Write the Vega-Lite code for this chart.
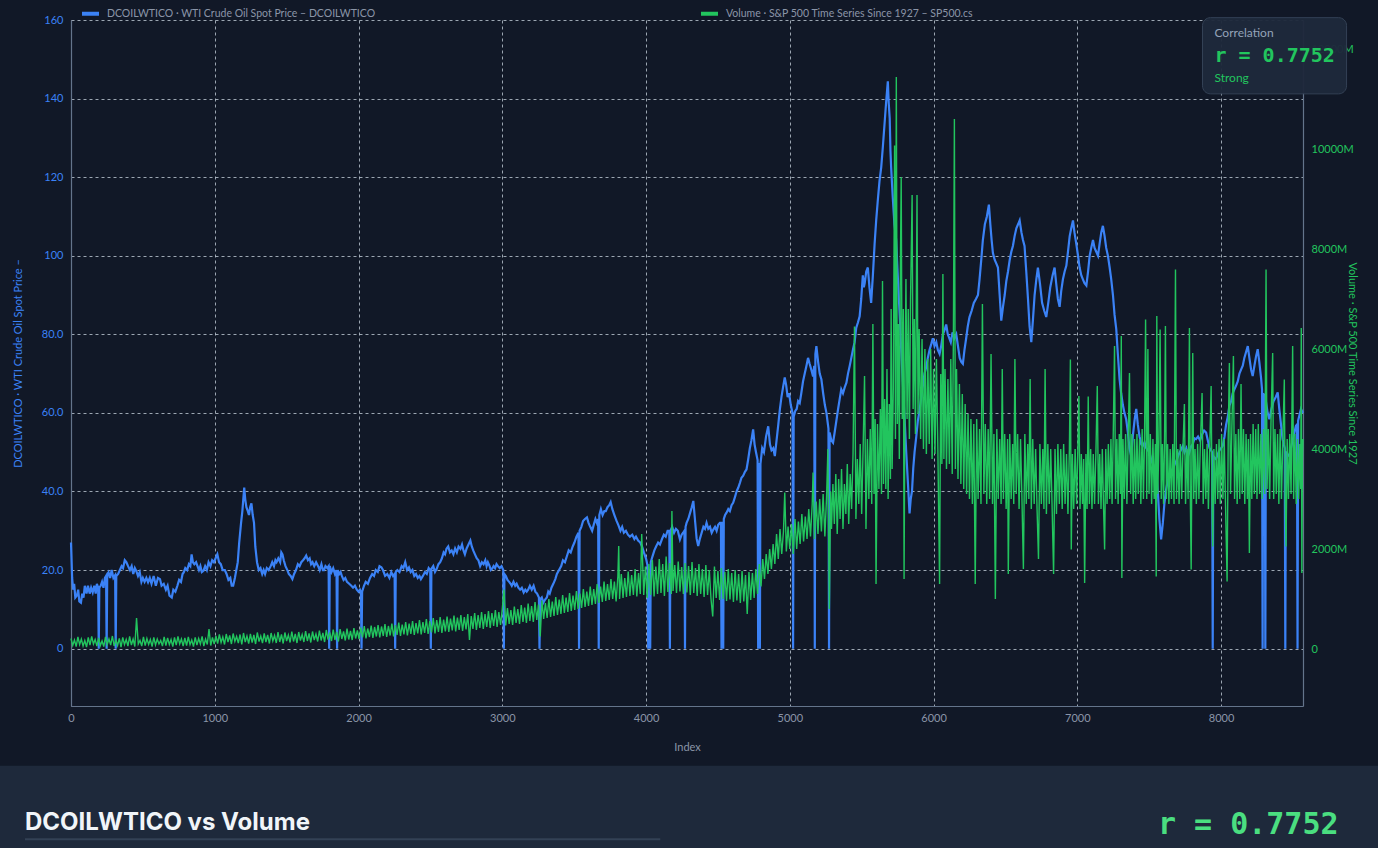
{
"$schema": "https://vega.github.io/schema/vega-lite/v6.json",
"width": 1232,
"height": 686,
"autosize": {"type": "none"},
"padding": {"left": 71, "top": 20, "right": 75, "bottom": 142},
"background": "#111827",
"config": {
  "view": {"stroke": null},
  "font": "Lato",
  "axis": {"labelFont": "Lato", "titleFont": "Lato", "ticks": false, "domainColor": "#64748b", "domainWidth": 1.2, "gridColor": "#cbd5e1", "gridOpacity": 0.75, "gridDash": [3, 3], "gridWidth": 1, "labelFontSize": 11, "titleFontSize": 11, "titleFontWeight": "normal"},
  "legend": {"orient": "none", "legendX": 9, "legendY": -17, "direction": "horizontal", "symbolType": "stroke", "symbolStrokeWidth": 4, "symbolSize": 289, "labelColor": "#8b95a7", "labelFont": "Lato", "labelFontSize": 10.5, "labelLimit": 0, "labelOffset": 6, "columnPadding": 317, "title": null}
},
"datasets": {
"oil": [{"index":0,"oil":27},{"index":8,"oil":18},{"index":15,"oil":15},{"index":22,"oil":16.5},{"index":30,"oil":13},{"index":41,"oil":13.5},{"index":50,"oil":15},{"index":58,"oil":12},{"index":69,"oil":11.7},{"index":78,"oil":14},{"index":87,"oil":13},{"index":96,"oil":16},{"index":108,"oil":14},{"index":118,"oil":16},{"index":130,"oil":14},{"index":140,"oil":15.5},{"index":151,"oil":14.3},{"index":162,"oil":16},{"index":172,"oil":14},{"index":180,"oil":16.5},{"index":189,"oil":15.5},{"index":193,"oil":0},{"index":197,"oil":15.5},{"index":206,"oil":16},{"index":216,"oil":17},{"index":226,"oil":15.5},{"index":236,"oil":18},{"index":244,"oil":18.5},{"index":248,"oil":0},{"index":252,"oil":18.8},{"index":261,"oil":19.4},{"index":272,"oil":18},{"index":283,"oil":20},{"index":295,"oil":18},{"index":307,"oil":18.7},{"index":311,"oil":0},{"index":315,"oil":18.5},{"index":328,"oil":19},{"index":340,"oil":20},{"index":352,"oil":21},{"index":362,"oil":20.5},{"index":374,"oil":22.5},{"index":385,"oil":22},{"index":397,"oil":21},{"index":410,"oil":20},{"index":422,"oil":21},{"index":433,"oil":19},{"index":444,"oil":20.5},{"index":454,"oil":19.8},{"index":466,"oil":18.5},{"index":478,"oil":19.5},{"index":490,"oil":17},{"index":500,"oil":18},{"index":512,"oil":17},{"index":524,"oil":18},{"index":536,"oil":16.9},{"index":548,"oil":18},{"index":560,"oil":16.5},{"index":575,"oil":18.5},{"index":590,"oil":16},{"index":605,"oil":18},{"index":619,"oil":17.7},{"index":630,"oil":16},{"index":645,"oil":16.5},{"index":660,"oil":15},{"index":672,"oil":16},{"index":685,"oil":13.5},{"index":701,"oil":13},{"index":712,"oil":15},{"index":726,"oil":14.5},{"index":740,"oil":16},{"index":752,"oil":17.5},{"index":765,"oil":17},{"index":776,"oil":19},{"index":784,"oil":19.4},{"index":795,"oil":20.5},{"index":808,"oil":20},{"index":820,"oil":21.5},{"index":830,"oil":21},{"index":839,"oil":24},{"index":848,"oil":22},{"index":858,"oil":21.5},{"index":870,"oil":22},{"index":880,"oil":21},{"index":890,"oil":20},{"index":900,"oil":21},{"index":910,"oil":19.5},{"index":921,"oil":19.8},{"index":933,"oil":21},{"index":945,"oil":20},{"index":957,"oil":22},{"index":970,"oil":21},{"index":982,"oil":22.5},{"index":994,"oil":22},{"index":1006,"oil":23},{"index":1018,"oil":24},{"index":1030,"oil":22},{"index":1042,"oil":21.5},{"index":1055,"oil":20},{"index":1070,"oil":20},{"index":1082,"oil":19},{"index":1095,"oil":17.5},{"index":1108,"oil":18},{"index":1118,"oil":16},{"index":1128,"oil":16},{"index":1140,"oil":18},{"index":1150,"oil":20},{"index":1160,"oil":22},{"index":1170,"oil":27},{"index":1183,"oil":32},{"index":1192,"oil":35},{"index":1205,"oil":41},{"index":1212,"oil":38},{"index":1220,"oil":36},{"index":1230,"oil":35},{"index":1238,"oil":34},{"index":1246,"oil":36},{"index":1255,"oil":37},{"index":1264,"oil":34},{"index":1273,"oil":32},{"index":1282,"oil":26},{"index":1294,"oil":22},{"index":1306,"oil":20},{"index":1318,"oil":20.5},{"index":1330,"oil":19},{"index":1340,"oil":20},{"index":1350,"oil":19},{"index":1362,"oil":20.5},{"index":1375,"oil":20},{"index":1389,"oil":21},{"index":1400,"oil":22},{"index":1412,"oil":21},{"index":1422,"oil":22.5},{"index":1430,"oil":22},{"index":1442,"oil":23},{"index":1455,"oil":22},{"index":1463,"oil":24.5},{"index":1471,"oil":24},{"index":1480,"oil":22.5},{"index":1492,"oil":21},{"index":1505,"oil":20},{"index":1515,"oil":19},{"index":1528,"oil":18.5},{"index":1540,"oil":17.7},{"index":1552,"oil":19},{"index":1565,"oil":20},{"index":1578,"oil":21.5},{"index":1590,"oil":21},{"index":1602,"oil":22},{"index":1614,"oil":22.5},{"index":1625,"oil":23},{"index":1636,"oil":23.7},{"index":1648,"oil":22.5},{"index":1660,"oil":23},{"index":1670,"oil":21.5},{"index":1680,"oil":22},{"index":1692,"oil":21},{"index":1705,"oil":22},{"index":1719,"oil":21},{"index":1730,"oil":20},{"index":1742,"oil":21.5},{"index":1752,"oil":20},{"index":1760,"oil":20},{"index":1770,"oil":21},{"index":1782,"oil":20.5},{"index":1792,"oil":21},{"index":1796,"oil":0},{"index":1800,"oil":21},{"index":1812,"oil":19.5},{"index":1824,"oil":20.5},{"index":1836,"oil":19},{"index":1847,"oil":20},{"index":1851,"oil":0},{"index":1855,"oil":20},{"index":1866,"oil":19},{"index":1875,"oil":19.5},{"index":1884,"oil":18.5},{"index":1896,"oil":17.5},{"index":1908,"oil":18},{"index":1920,"oil":17},{"index":1935,"oil":16.5},{"index":1950,"oil":16},{"index":1962,"oil":15.5},{"index":1975,"oil":16},{"index":1988,"oil":15},{"index":2000,"oil":14.5},{"index":2010,"oil":15},{"index":2017,"oil":14.3},{"index":2021,"oil":0},{"index":2025,"oil":14.5},{"index":2038,"oil":16},{"index":2050,"oil":17},{"index":2065,"oil":16.5},{"index":2080,"oil":18},{"index":2095,"oil":19},{"index":2108,"oil":18.5},{"index":2120,"oil":20},{"index":2134,"oil":19.5},{"index":2146,"oil":21},{"index":2159,"oil":20.7},{"index":2170,"oil":20},{"index":2185,"oil":18.5},{"index":2200,"oil":19},{"index":2215,"oil":18},{"index":2228,"oil":19.5},{"index":2240,"oil":18.5},{"index":2251,"oil":19},{"index":2255,"oil":0},{"index":2259,"oil":19.5},{"index":2270,"oil":20},{"index":2285,"oil":19.5},{"index":2300,"oil":21},{"index":2312,"oil":20.5},{"index":2325,"oil":22},{"index":2338,"oil":20},{"index":2351,"oil":20.7},{"index":2363,"oil":19.5},{"index":2375,"oil":20},{"index":2388,"oil":18.5},{"index":2400,"oil":19},{"index":2412,"oil":18},{"index":2424,"oil":18.5},{"index":2434,"oil":17.7},{"index":2448,"oil":18.5},{"index":2462,"oil":19.5},{"index":2475,"oil":19},{"index":2488,"oil":20.5},{"index":2499,"oil":20},{"index":2503,"oil":0},{"index":2507,"oil":20.3},{"index":2520,"oil":21},{"index":2532,"oil":19.5},{"index":2544,"oil":20.3},{"index":2556,"oil":21.5},{"index":2568,"oil":22},{"index":2580,"oil":23},{"index":2592,"oil":24.5},{"index":2602,"oil":24},{"index":2612,"oil":25.4},{"index":2624,"oil":26},{"index":2636,"oil":24.5},{"index":2648,"oil":25},{"index":2660,"oil":24},{"index":2672,"oil":25.5},{"index":2684,"oil":24.5},{"index":2696,"oil":26},{"index":2709,"oil":25.4},{"index":2720,"oil":26.5},{"index":2730,"oil":25},{"index":2740,"oil":24},{"index":2752,"oil":25.5},{"index":2765,"oil":26.5},{"index":2778,"oil":27.5},{"index":2788,"oil":26},{"index":2798,"oil":25},{"index":2810,"oil":24},{"index":2822,"oil":23},{"index":2834,"oil":22.5},{"index":2846,"oil":21},{"index":2858,"oil":22},{"index":2870,"oil":21.5},{"index":2882,"oil":22.5},{"index":2891,"oil":21},{"index":2900,"oil":22},{"index":2912,"oil":21},{"index":2920,"oil":20},{"index":2929,"oil":20.3},{"index":2940,"oil":21},{"index":2950,"oil":20.5},{"index":2960,"oil":21.5},{"index":2970,"oil":21},{"index":2982,"oil":20.5},{"index":2995,"oil":21},{"index":3007,"oil":20},{"index":3011,"oil":0},{"index":3015,"oil":19},{"index":3025,"oil":18.5},{"index":3036,"oil":17.5},{"index":3048,"oil":17},{"index":3058,"oil":16.5},{"index":3066,"oil":16},{"index":3078,"oil":17},{"index":3090,"oil":16},{"index":3100,"oil":16.5},{"index":3112,"oil":15.5},{"index":3124,"oil":15},{"index":3136,"oil":15.5},{"index":3149,"oil":14.3},{"index":3160,"oil":15},{"index":3170,"oil":14.5},{"index":3180,"oil":15},{"index":3192,"oil":16},{"index":3205,"oil":15},{"index":3218,"oil":16},{"index":3230,"oil":14.5},{"index":3242,"oil":14},{"index":3255,"oil":13},{"index":3259,"oil":0},{"index":3263,"oil":12.5},{"index":3275,"oil":13},{"index":3286,"oil":11.7},{"index":3298,"oil":12.5},{"index":3310,"oil":13},{"index":3320,"oil":14.5},{"index":3330,"oil":14},{"index":3342,"oil":15.5},{"index":3355,"oil":16.5},{"index":3369,"oil":17.7},{"index":3380,"oil":19},{"index":3395,"oil":20},{"index":3410,"oil":21},{"index":3422,"oil":22.5},{"index":3436,"oil":22},{"index":3451,"oil":23.7},{"index":3462,"oil":25},{"index":3476,"oil":24.5},{"index":3490,"oil":26},{"index":3502,"oil":27},{"index":3516,"oil":28.5},{"index":3530,"oil":29.5},{"index":3534,"oil":0},{"index":3538,"oil":30},{"index":3550,"oil":31},{"index":3562,"oil":32.5},{"index":3575,"oil":33},{"index":3589,"oil":33.4},{"index":3600,"oil":32},{"index":3612,"oil":31},{"index":3625,"oil":30},{"index":3636,"oil":31.5},{"index":3648,"oil":33},{"index":3658,"oil":32},{"index":3667,"oil":33},{"index":3671,"oil":0},{"index":3675,"oil":34},{"index":3686,"oil":35.5},{"index":3698,"oil":34},{"index":3710,"oil":35},{"index":3720,"oil":35},{"index":3732,"oil":36},{"index":3744,"oil":36.5},{"index":3754,"oil":37.3},{"index":3766,"oil":35.5},{"index":3780,"oil":34},{"index":3795,"oil":32.5},{"index":3809,"oil":31.3},{"index":3822,"oil":30},{"index":3834,"oil":31},{"index":3846,"oil":29.5},{"index":3860,"oil":30},{"index":3874,"oil":29},{"index":3888,"oil":28.5},{"index":3904,"oil":29},{"index":3919,"oil":27.9},{"index":3930,"oil":28.5},{"index":3945,"oil":27.5},{"index":3960,"oil":27},{"index":3972,"oil":26},{"index":3985,"oil":24.5},{"index":4001,"oil":22.8},{"index":4011,"oil":21},{"index":4015,"oil":0},{"index":4019,"oil":20},{"index":4025,"oil":20},{"index":4029,"oil":0},{"index":4033,"oil":22},{"index":4045,"oil":23.5},{"index":4058,"oil":25},{"index":4070,"oil":26},{"index":4084,"oil":27},{"index":4097,"oil":26.5},{"index":4111,"oil":27.9},{"index":4124,"oil":29},{"index":4137,"oil":28.5},{"index":4150,"oil":30},{"index":4162,"oil":30},{"index":4166,"oil":0},{"index":4170,"oil":30},{"index":4182,"oil":31},{"index":4195,"oil":29.5},{"index":4208,"oil":30.5},{"index":4221,"oil":30},{"index":4236,"oil":27.8},{"index":4248,"oil":29},{"index":4258,"oil":29.5},{"index":4267,"oil":30},{"index":4271,"oil":0},{"index":4275,"oil":31},{"index":4282,"oil":32},{"index":4294,"oil":33},{"index":4306,"oil":34.5},{"index":4318,"oil":36},{"index":4329,"oil":37.6},{"index":4340,"oil":33},{"index":4352,"oil":28},{"index":4363,"oil":26.1},{"index":4375,"oil":28},{"index":4387,"oil":29.5},{"index":4399,"oil":31},{"index":4410,"oil":30.5},{"index":4421,"oil":32},{"index":4433,"oil":30.5},{"index":4445,"oil":31},{"index":4457,"oil":29.5},{"index":4468,"oil":30.3},{"index":4480,"oil":31},{"index":4491,"oil":30},{"index":4502,"oil":31.5},{"index":4514,"oil":32},{"index":4521,"oil":32},{"index":4525,"oil":0},{"index":4529,"oil":32},{"index":4533,"oil":32},{"index":4537,"oil":0},{"index":4541,"oil":33},{"index":4550,"oil":34},{"index":4560,"oil":34.6},{"index":4572,"oil":35.5},{"index":4583,"oil":35},{"index":4595,"oil":36.5},{"index":4606,"oil":37.1},{"index":4618,"oil":38.5},{"index":4630,"oil":40},{"index":4642,"oil":41},{"index":4653,"oil":42.2},{"index":4664,"oil":43.5},{"index":4676,"oil":44},{"index":4688,"oil":45},{"index":4699,"oil":45.6},{"index":4710,"oil":48},{"index":4722,"oil":51},{"index":4733,"oil":53},{"index":4745,"oil":55.8},{"index":4755,"oil":52},{"index":4765,"oil":50},{"index":4776,"oil":48},{"index":4780,"oil":0},{"index":4784,"oil":47},{"index":4788,"oil":47},{"index":4792,"oil":0},{"index":4796,"oil":47},{"index":4808,"oil":51},{"index":4820,"oil":50},{"index":4835,"oil":54},{"index":4850,"oil":56.6},{"index":4862,"oil":52},{"index":4873,"oil":50.5},{"index":4885,"oil":51},{"index":4896,"oil":49},{"index":4908,"oil":53},{"index":4920,"oil":57},{"index":4931,"oil":60.9},{"index":4942,"oil":64},{"index":4953,"oil":66.5},{"index":4965,"oil":69},{"index":4975,"oil":67},{"index":4985,"oil":64},{"index":4995,"oil":65},{"index":5007,"oil":62},{"index":5019,"oil":60},{"index":5023,"oil":0},{"index":5027,"oil":59},{"index":5038,"oil":60.5},{"index":5048,"oil":61},{"index":5058,"oil":63},{"index":5069,"oil":62.5},{"index":5080,"oil":65},{"index":5092,"oil":68},{"index":5104,"oil":70},{"index":5116,"oil":72},{"index":5127,"oil":74},{"index":5138,"oil":72.5},{"index":5150,"oil":71},{"index":5162,"oil":69.3},{"index":5170,"oil":72},{"index":5174,"oil":0},{"index":5178,"oil":75},{"index":5185,"oil":77},{"index":5197,"oil":73},{"index":5208,"oil":70},{"index":5220,"oil":68.5},{"index":5232,"oil":65},{"index":5244,"oil":62},{"index":5255,"oil":60},{"index":5269,"oil":56},{"index":5273,"oil":0},{"index":5277,"oil":55},{"index":5289,"oil":53},{"index":5301,"oil":52.4},{"index":5312,"oil":55},{"index":5324,"oil":58},{"index":5336,"oil":61},{"index":5347,"oil":63.5},{"index":5358,"oil":66},{"index":5370,"oil":65},{"index":5382,"oil":66.5},{"index":5394,"oil":67.7},{"index":5405,"oil":70},{"index":5417,"oil":72},{"index":5428,"oil":74},{"index":5440,"oil":76.2},{"index":5451,"oil":78},{"index":5462,"oil":81.6},{"index":5474,"oil":83},{"index":5486,"oil":84.6},{"index":5497,"oil":89},{"index":5508,"oil":95},{"index":5515,"oil":92},{"index":5521,"oil":93},{"index":5532,"oil":96},{"index":5543,"oil":97},{"index":5554,"oil":92},{"index":5566,"oil":88},{"index":5578,"oil":95},{"index":5590,"oil":103},{"index":5601,"oil":109},{"index":5612,"oil":114},{"index":5624,"oil":119},{"index":5636,"oil":122.5},{"index":5648,"oil":128},{"index":5659,"oil":133.5},{"index":5670,"oil":139},{"index":5682,"oil":144.4},{"index":5688,"oil":139},{"index":5695,"oil":135},{"index":5700,"oil":127},{"index":5705,"oil":122.5},{"index":5716,"oil":115},{"index":5728,"oil":108},{"index":5740,"oil":104},{"index":5751,"oil":95},{"index":5763,"oil":86},{"index":5774,"oil":77},{"index":5786,"oil":68},{"index":5798,"oil":59},{"index":5810,"oil":50},{"index":5822,"oil":42},{"index":5833,"oil":34.4},{"index":5841,"oil":38},{"index":5850,"oil":40},{"index":5859,"oil":46},{"index":5868,"oil":50},{"index":5880,"oil":54},{"index":5891,"oil":58},{"index":5903,"oil":60.7},{"index":5914,"oil":64},{"index":5926,"oil":67},{"index":5937,"oil":70},{"index":5949,"oil":71.6},{"index":5960,"oil":74},{"index":5972,"oil":76},{"index":5984,"oil":77.5},{"index":5995,"oil":79},{"index":6007,"oil":77},{"index":6019,"oil":78},{"index":6030,"oil":76},{"index":6042,"oil":75},{"index":6053,"oil":77},{"index":6065,"oil":80},{"index":6076,"oil":81},{"index":6088,"oil":82.5},{"index":6099,"oil":80},{"index":6110,"oil":79},{"index":6120,"oil":78},{"index":6132,"oil":80.5},{"index":6145,"oil":79},{"index":6158,"oil":80},{"index":6170,"oil":77},{"index":6182,"oil":74},{"index":6193,"oil":73},{"index":6204,"oil":72.5},{"index":6215,"oil":76},{"index":6227,"oil":79},{"index":6238,"oil":82},{"index":6250,"oil":84.4},{"index":6265,"oil":86},{"index":6280,"oil":88},{"index":6295,"oil":89},{"index":6309,"oil":90},{"index":6320,"oil":94},{"index":6332,"oil":99},{"index":6343,"oil":104},{"index":6357,"oil":108},{"index":6371,"oil":110},{"index":6385,"oil":113},{"index":6395,"oil":108},{"index":6404,"oil":104},{"index":6413,"oil":100.7},{"index":6425,"oil":99},{"index":6437,"oil":98},{"index":6448,"oil":97},{"index":6460,"oil":90},{"index":6471,"oil":83.5},{"index":6483,"oil":87},{"index":6495,"oil":90},{"index":6506,"oil":93.5},{"index":6518,"oil":96},{"index":6530,"oil":99},{"index":6541,"oil":101},{"index":6552,"oil":102.5},{"index":6564,"oil":105},{"index":6576,"oil":107},{"index":6588,"oil":108},{"index":6599,"oil":109},{"index":6611,"oil":106},{"index":6622,"oil":104},{"index":6633,"oil":102.5},{"index":6645,"oil":96},{"index":6657,"oil":89},{"index":6668,"oil":82},{"index":6680,"oil":78},{"index":6692,"oil":84},{"index":6703,"oil":90},{"index":6715,"oil":94},{"index":6726,"oil":97},{"index":6740,"oil":93},{"index":6755,"oil":88},{"index":6770,"oil":86},{"index":6784,"oil":84.4},{"index":6798,"oil":88},{"index":6812,"oil":92},{"index":6828,"oil":95},{"index":6842,"oil":97},{"index":6853,"oil":93},{"index":6865,"oil":89},{"index":6877,"oil":87},{"index":6888,"oil":91},{"index":6900,"oil":94},{"index":6912,"oil":96},{"index":6924,"oil":97.5},{"index":6935,"oil":101},{"index":6947,"oil":105},{"index":6958,"oil":107},{"index":6970,"oil":109},{"index":6980,"oil":106},{"index":6993,"oil":103},{"index":7005,"oil":100},{"index":7016,"oil":97},{"index":7028,"oil":95},{"index":7039,"oil":94},{"index":7050,"oil":93},{"index":7063,"oil":92.4},{"index":7075,"oil":96},{"index":7086,"oil":100},{"index":7097,"oil":102},{"index":7109,"oil":104},{"index":7120,"oil":102},{"index":7132,"oil":101},{"index":7144,"oil":100},{"index":7155,"oil":103},{"index":7167,"oil":106},{"index":7178,"oil":107.6},{"index":7190,"oil":105},{"index":7201,"oil":102},{"index":7213,"oil":100},{"index":7225,"oil":97},{"index":7236,"oil":94},{"index":7248,"oil":90},{"index":7259,"oil":85},{"index":7271,"oil":81.3},{"index":7282,"oil":75},{"index":7294,"oil":68.6},{"index":7305,"oil":65},{"index":7317,"oil":62},{"index":7328,"oil":60},{"index":7340,"oil":58.4},{"index":7352,"oil":55},{"index":7363,"oil":51},{"index":7375,"oil":49},{"index":7386,"oil":54},{"index":7398,"oil":58},{"index":7410,"oil":61},{"index":7421,"oil":57},{"index":7433,"oil":54},{"index":7445,"oil":52},{"index":7456,"oil":51.6},{"index":7468,"oil":52.5},{"index":7480,"oil":51},{"index":7491,"oil":50.5},{"index":7502,"oil":50},{"index":7514,"oil":48},{"index":7526,"oil":47},{"index":7537,"oil":46},{"index":7549,"oil":45.7},{"index":7560,"oil":40},{"index":7571,"oil":33},{"index":7583,"oil":27.8},{"index":7595,"oil":32},{"index":7606,"oil":37},{"index":7618,"oil":40.6},{"index":7630,"oil":43},{"index":7641,"oil":44},{"index":7653,"oil":45},{"index":7664,"oil":45.7},{"index":7678,"oil":47},{"index":7692,"oil":48},{"index":7706,"oil":49.5},{"index":7720,"oil":50.5},{"index":7734,"oil":51.6},{"index":7746,"oil":50},{"index":7758,"oil":51},{"index":7770,"oil":49},{"index":7780,"oil":50},{"index":7792,"oil":51.5},{"index":7803,"oil":52},{"index":7815,"oil":53.5},{"index":7826,"oil":53.3},{"index":7840,"oil":54},{"index":7854,"oil":53},{"index":7868,"oil":54.5},{"index":7882,"oil":55.5},{"index":7896,"oil":55},{"index":7908,"oil":53},{"index":7920,"oil":51},{"index":7930,"oil":50.5},{"index":7938,"oil":50},{"index":7942,"oil":0},{"index":7946,"oil":49},{"index":7955,"oil":48.5},{"index":7965,"oil":48.2},{"index":7977,"oil":49.5},{"index":7989,"oil":50.5},{"index":8000,"oil":51},{"index":8012,"oil":51.6},{"index":8024,"oil":54},{"index":8035,"oil":57},{"index":8047,"oil":59},{"index":8058,"oil":61.8},{"index":8070,"oil":63},{"index":8081,"oil":65},{"index":8093,"oil":66},{"index":8104,"oil":66.9},{"index":8116,"oil":68},{"index":8128,"oil":70},{"index":8139,"oil":71},{"index":8151,"oil":72},{"index":8162,"oil":74},{"index":8174,"oil":75.5},{"index":8186,"oil":77},{"index":8197,"oil":74},{"index":8209,"oil":71},{"index":8220,"oil":69.4},{"index":8232,"oil":72},{"index":8244,"oil":74.5},{"index":8255,"oil":76.2},{"index":8266,"oil":73},{"index":8278,"oil":69},{"index":8285,"oil":66},{"index":8289,"oil":0},{"index":8293,"oil":65},{"index":8300,"oil":64.5},{"index":8304,"oil":64},{"index":8308,"oil":0},{"index":8312,"oil":63},{"index":8324,"oil":60},{"index":8336,"oil":58.4},{"index":8350,"oil":61},{"index":8365,"oil":63},{"index":8380,"oil":64},{"index":8394,"oil":65.2},{"index":8405,"oil":61},{"index":8417,"oil":57},{"index":8428,"oil":53.3},{"index":8436,"oil":52},{"index":8443,"oil":51},{"index":8447,"oil":0},{"index":8451,"oil":50},{"index":8462,"oil":49.5},{"index":8474,"oil":49},{"index":8486,"oil":51},{"index":8498,"oil":53},{"index":8510,"oil":55},{"index":8521,"oil":56.7},{"index":8528,"oil":57},{"index":8532,"oil":0},{"index":8536,"oil":58},{"index":8546,"oil":59.5},{"index":8556,"oil":61},{"index":8570,"oil":60}],
"volume": [{"index":0,"volume":210},{"index":12,"volume":70},{"index":24,"volume":180},{"index":36,"volume":50},{"index":48,"volume":240},{"index":60,"volume":90},{"index":72,"volume":200},{"index":84,"volume":60},{"index":96,"volume":170},{"index":108,"volume":40},{"index":120,"volume":230},{"index":132,"volume":80},{"index":144,"volume":250},{"index":156,"volume":100},{"index":168,"volume":190},{"index":180,"volume":60},{"index":192,"volume":220},{"index":204,"volume":70},{"index":216,"volume":160},{"index":228,"volume":50},{"index":240,"volume":240},{"index":252,"volume":90},{"index":264,"volume":200},{"index":276,"volume":80},{"index":288,"volume":260},{"index":300,"volume":60},{"index":312,"volume":180},{"index":324,"volume":70},{"index":336,"volume":210},{"index":348,"volume":40},{"index":360,"volume":230},{"index":372,"volume":90},{"index":384,"volume":190},{"index":396,"volume":60},{"index":408,"volume":250},{"index":420,"volume":80},{"index":432,"volume":200},{"index":444,"volume":50},{"index":456,"volume":620},{"index":468,"volume":100},{"index":480,"volume":170},{"index":492,"volume":60},{"index":504,"volume":240},{"index":516,"volume":70},{"index":528,"volume":210},{"index":540,"volume":90},{"index":552,"volume":190},{"index":564,"volume":50},{"index":576,"volume":230},{"index":588,"volume":80},{"index":600,"volume":200},{"index":612,"volume":100},{"index":624,"volume":170},{"index":636,"volume":60},{"index":648,"volume":240},{"index":660,"volume":70},{"index":672,"volume":220},{"index":684,"volume":90},{"index":696,"volume":190},{"index":708,"volume":50},{"index":720,"volume":230},{"index":732,"volume":80},{"index":744,"volume":250},{"index":756,"volume":100},{"index":768,"volume":200},{"index":780,"volume":60},{"index":792,"volume":220},{"index":804,"volume":70},{"index":816,"volume":240},{"index":828,"volume":90},{"index":840,"volume":180},{"index":852,"volume":50},{"index":864,"volume":230},{"index":876,"volume":80},{"index":888,"volume":210},{"index":900,"volume":100},{"index":912,"volume":250},{"index":924,"volume":60},{"index":936,"volume":200},{"index":948,"volume":90},{"index":960,"volume":400},{"index":972,"volume":70},{"index":984,"volume":230},{"index":996,"volume":100},{"index":1008,"volume":260},{"index":1020,"volume":110},{"index":1032,"volume":290},{"index":1044,"volume":130},{"index":1056,"volume":240},{"index":1068,"volume":90},{"index":1080,"volume":300},{"index":1092,"volume":140},{"index":1104,"volume":270},{"index":1116,"volume":100},{"index":1128,"volume":310},{"index":1140,"volume":150},{"index":1152,"volume":250},{"index":1164,"volume":120},{"index":1176,"volume":290},{"index":1188,"volume":90},{"index":1200,"volume":320},{"index":1212,"volume":140},{"index":1224,"volume":260},{"index":1236,"volume":110},{"index":1248,"volume":300},{"index":1260,"volume":130},{"index":1272,"volume":280},{"index":1284,"volume":100},{"index":1296,"volume":330},{"index":1308,"volume":150},{"index":1320,"volume":260},{"index":1332,"volume":120},{"index":1344,"volume":310},{"index":1356,"volume":140},{"index":1368,"volume":280},{"index":1380,"volume":110},{"index":1392,"volume":320},{"index":1404,"volume":160},{"index":1416,"volume":270},{"index":1428,"volume":120},{"index":1440,"volume":340},{"index":1452,"volume":140},{"index":1464,"volume":290},{"index":1476,"volume":110},{"index":1488,"volume":330},{"index":1500,"volume":160},{"index":1512,"volume":280},{"index":1524,"volume":130},{"index":1536,"volume":350},{"index":1548,"volume":150},{"index":1560,"volume":300},{"index":1572,"volume":120},{"index":1584,"volume":340},{"index":1596,"volume":170},{"index":1608,"volume":290},{"index":1620,"volume":140},{"index":1632,"volume":360},{"index":1644,"volume":160},{"index":1656,"volume":310},{"index":1668,"volume":130},{"index":1680,"volume":350},{"index":1692,"volume":180},{"index":1704,"volume":300},{"index":1716,"volume":150},{"index":1728,"volume":370},{"index":1740,"volume":170},{"index":1752,"volume":320},{"index":1764,"volume":140},{"index":1776,"volume":380},{"index":1788,"volume":190},{"index":1800,"volume":330},{"index":1812,"volume":160},{"index":1824,"volume":390},{"index":1836,"volume":180},{"index":1848,"volume":340},{"index":1860,"volume":150},{"index":1872,"volume":400},{"index":1884,"volume":200},{"index":1896,"volume":350},{"index":1908,"volume":170},{"index":1920,"volume":410},{"index":1932,"volume":190},{"index":1944,"volume":360},{"index":1956,"volume":180},{"index":1968,"volume":420},{"index":1980,"volume":210},{"index":1992,"volume":370},{"index":2004,"volume":200},{"index":2016,"volume":430},{"index":2028,"volume":230},{"index":2040,"volume":460},{"index":2052,"volume":210},{"index":2064,"volume":410},{"index":2076,"volume":240},{"index":2088,"volume":470},{"index":2100,"volume":220},{"index":2112,"volume":440},{"index":2124,"volume":250},{"index":2136,"volume":480},{"index":2148,"volume":230},{"index":2160,"volume":450},{"index":2172,"volume":260},{"index":2184,"volume":500},{"index":2196,"volume":240},{"index":2208,"volume":460},{"index":2220,"volume":270},{"index":2232,"volume":510},{"index":2244,"volume":250},{"index":2256,"volume":480},{"index":2268,"volume":280},{"index":2280,"volume":530},{"index":2292,"volume":260},{"index":2304,"volume":490},{"index":2316,"volume":290},{"index":2328,"volume":540},{"index":2340,"volume":270},{"index":2352,"volume":510},{"index":2364,"volume":300},{"index":2376,"volume":560},{"index":2388,"volume":280},{"index":2400,"volume":520},{"index":2412,"volume":310},{"index":2424,"volume":580},{"index":2436,"volume":290},{"index":2448,"volume":540},{"index":2460,"volume":320},{"index":2472,"volume":600},{"index":2484,"volume":300},{"index":2496,"volume":560},{"index":2508,"volume":330},{"index":2520,"volume":620},{"index":2532,"volume":310},{"index":2544,"volume":580},{"index":2556,"volume":340},{"index":2568,"volume":640},{"index":2580,"volume":320},{"index":2592,"volume":590},{"index":2604,"volume":350},{"index":2616,"volume":650},{"index":2628,"volume":340},{"index":2640,"volume":610},{"index":2652,"volume":370},{"index":2664,"volume":670},{"index":2676,"volume":350},{"index":2688,"volume":630},{"index":2700,"volume":380},{"index":2712,"volume":680},{"index":2724,"volume":360},{"index":2736,"volume":640},{"index":2748,"volume":390},{"index":2760,"volume":700},{"index":2772,"volume":180},{"index":2784,"volume":660},{"index":2796,"volume":400},{"index":2808,"volume":720},{"index":2820,"volume":380},{"index":2832,"volume":680},{"index":2844,"volume":420},{"index":2856,"volume":740},{"index":2868,"volume":400},{"index":2880,"volume":700},{"index":2892,"volume":440},{"index":2904,"volume":760},{"index":2916,"volume":420},{"index":2928,"volume":720},{"index":2940,"volume":460},{"index":2952,"volume":780},{"index":2964,"volume":440},{"index":2976,"volume":740},{"index":2988,"volume":480},{"index":3000,"volume":800},{"index":3012,"volume":1190},{"index":3024,"volume":470},{"index":3036,"volume":820},{"index":3048,"volume":500},{"index":3060,"volume":780},{"index":3072,"volume":480},{"index":3084,"volume":850},{"index":3096,"volume":520},{"index":3108,"volume":800},{"index":3120,"volume":500},{"index":3132,"volume":880},{"index":3144,"volume":540},{"index":3156,"volume":830},{"index":3168,"volume":520},{"index":3180,"volume":910},{"index":3192,"volume":560},{"index":3204,"volume":860},{"index":3216,"volume":540},{"index":3228,"volume":940},{"index":3240,"volume":580},{"index":3252,"volume":890},{"index":3264,"volume":250},{"index":3276,"volume":970},{"index":3288,"volume":600},{"index":3300,"volume":920},{"index":3312,"volume":620},{"index":3324,"volume":1000},{"index":3336,"volume":640},{"index":3348,"volume":950},{"index":3360,"volume":660},{"index":3372,"volume":1040},{"index":3384,"volume":680},{"index":3396,"volume":990},{"index":3408,"volume":700},{"index":3420,"volume":1080},{"index":3432,"volume":720},{"index":3444,"volume":1030},{"index":3456,"volume":740},{"index":3468,"volume":1120},{"index":3480,"volume":760},{"index":3492,"volume":1070},{"index":3504,"volume":780},{"index":3516,"volume":1160},{"index":3528,"volume":800},{"index":3540,"volume":1110},{"index":3552,"volume":820},{"index":3564,"volume":1200},{"index":3576,"volume":840},{"index":3588,"volume":1150},{"index":3600,"volume":860},{"index":3612,"volume":1250},{"index":3624,"volume":880},{"index":3636,"volume":1200},{"index":3648,"volume":900},{"index":3660,"volume":1300},{"index":3672,"volume":920},{"index":3684,"volume":1250},{"index":3696,"volume":940},{"index":3708,"volume":1350},{"index":3720,"volume":960},{"index":3732,"volume":1300},{"index":3744,"volume":980},{"index":3756,"volume":1400},{"index":3768,"volume":1000},{"index":3780,"volume":1350},{"index":3792,"volume":950},{"index":3804,"volume":1450},{"index":3810,"volume":2060},{"index":3816,"volume":1000},{"index":3828,"volume":1500},{"index":3840,"volume":1020},{"index":3852,"volume":1420},{"index":3864,"volume":1040},{"index":3876,"volume":1550},{"index":3888,"volume":1060},{"index":3900,"volume":1480},{"index":3912,"volume":1080},{"index":3924,"volume":1600},{"index":3936,"volume":1050},{"index":3948,"volume":1520},{"index":3960,"volume":1100},{"index":3970,"volume":2300},{"index":3984,"volume":1080},{"index":3996,"volume":1650},{"index":4008,"volume":1020},{"index":4020,"volume":1700},{"index":4032,"volume":1080},{"index":4044,"volume":1780},{"index":4056,"volume":1050},{"index":4068,"volume":1650},{"index":4080,"volume":1100},{"index":4092,"volume":1800},{"index":4104,"volume":1120},{"index":4116,"volume":1700},{"index":4128,"volume":1060},{"index":4140,"volume":1850},{"index":4152,"volume":1140},{"index":4164,"volume":1720},{"index":4176,"volume":1100},{"index":4180,"volume":2760},{"index":4188,"volume":1160},{"index":4200,"volume":1680},{"index":4212,"volume":1120},{"index":4224,"volume":1750},{"index":4236,"volume":1150},{"index":4248,"volume":1640},{"index":4260,"volume":1100},{"index":4272,"volume":1720},{"index":4284,"volume":1130},{"index":4296,"volume":1660},{"index":4308,"volume":1080},{"index":4320,"volume":1740},{"index":4332,"volume":1120},{"index":4344,"volume":1620},{"index":4356,"volume":1060},{"index":4368,"volume":1700},{"index":4380,"volume":1100},{"index":4392,"volume":1600},{"index":4404,"volume":1040},{"index":4416,"volume":1680},{"index":4428,"volume":1080},{"index":4440,"volume":1580},{"index":4452,"volume":1000},{"index":4464,"volume":650},{"index":4476,"volume":1650},{"index":4488,"volume":1020},{"index":4500,"volume":1560},{"index":4512,"volume":980},{"index":4524,"volume":1620},{"index":4536,"volume":1000},{"index":4548,"volume":1540},{"index":4560,"volume":960},{"index":4572,"volume":1600},{"index":4584,"volume":990},{"index":4596,"volume":1520},{"index":4608,"volume":940},{"index":4620,"volume":1580},{"index":4632,"volume":970},{"index":4644,"volume":1500},{"index":4656,"volume":920},{"index":4668,"volume":1560},{"index":4680,"volume":950},{"index":4692,"volume":1480},{"index":4704,"volume":700},{"index":4716,"volume":1540},{"index":4728,"volume":980},{"index":4740,"volume":1520},{"index":4752,"volume":1020},{"index":4764,"volume":1600},{"index":4776,"volume":1100},{"index":4788,"volume":1700},{"index":4800,"volume":1250},{"index":4812,"volume":1800},{"index":4824,"volume":1400},{"index":4836,"volume":1900},{"index":4848,"volume":1500},{"index":4860,"volume":2000},{"index":4872,"volume":1600},{"index":4884,"volume":2100},{"index":4896,"volume":1700},{"index":4908,"volume":2300},{"index":4920,"volume":1800},{"index":4932,"volume":2400},{"index":4944,"volume":1900},{"index":4956,"volume":2350},{"index":4965,"volume":3130},{"index":4976,"volume":1950},{"index":4988,"volume":2450},{"index":5000,"volume":2000},{"index":5012,"volume":2500},{"index":5024,"volume":1900},{"index":5036,"volume":2600},{"index":5048,"volume":2000},{"index":5060,"volume":2550},{"index":5072,"volume":2100},{"index":5084,"volume":2700},{"index":5096,"volume":2150},{"index":5108,"volume":2650},{"index":5120,"volume":2200},{"index":5132,"volume":2800},{"index":5144,"volume":2250},{"index":5156,"volume":2900},{"index":5162,"volume":3530},{"index":5172,"volume":2200},{"index":5184,"volume":2950},{"index":5196,"volume":2300},{"index":5208,"volume":3000},{"index":5220,"volume":2350},{"index":5232,"volume":3100},{"index":5244,"volume":2250},{"index":5256,"volume":3050},{"index":5265,"volume":4000},{"index":5275,"volume":800},{"index":5284,"volume":3150},{"index":5290,"volume":2400},{"index":5300,"volume":3300},{"index":5310,"volume":2500},{"index":5320,"volume":3500},{"index":5330,"volume":2300},{"index":5340,"volume":3400},{"index":5350,"volume":2600},{"index":5360,"volume":3600},{"index":5370,"volume":2400},{"index":5380,"volume":3300},{"index":5390,"volume":2700},{"index":5400,"volume":3700},{"index":5410,"volume":2500},{"index":5420,"volume":3500},{"index":5430,"volume":2800},{"index":5440,"volume":3900},{"index":5450,"volume":6450},{"index":5460,"volume":2600},{"index":5470,"volume":3800},{"index":5480,"volume":2900},{"index":5490,"volume":4100},{"index":5500,"volume":2700},{"index":5510,"volume":4000},{"index":5520,"volume":5460},{"index":5530,"volume":2400},{"index":5540,"volume":4200},{"index":5550,"volume":3000},{"index":5560,"volume":4400},{"index":5570,"volume":2900},{"index":5578,"volume":6500},{"index":5586,"volume":3100},{"index":5594,"volume":4600},{"index":5600,"volume":1300},{"index":5610,"volume":4500},{"index":5620,"volume":3200},{"index":5630,"volume":4800},{"index":5638,"volume":3100},{"index":5645,"volume":7360},{"index":5652,"volume":3300},{"index":5660,"volume":5000},{"index":5668,"volume":3200},{"index":5676,"volume":5600},{"index":5684,"volume":3000},{"index":5692,"volume":4900},{"index":5700,"volume":3400},{"index":5705,"volume":6800},{"index":5712,"volume":3600},{"index":5720,"volume":5200},{"index":5729,"volume":10070},{"index":5735,"volume":4200},{"index":5741,"volume":11440},{"index":5748,"volume":4500},{"index":5755,"volume":6500},{"index":5762,"volume":3800},{"index":5768,"volume":7200},{"index":5775,"volume":9440},{"index":5782,"volume":4600},{"index":5790,"volume":6800},{"index":5795,"volume":1400},{"index":5802,"volume":5500},{"index":5808,"volume":7400},{"index":5816,"volume":4600},{"index":5824,"volume":6800},{"index":5832,"volume":4200},{"index":5840,"volume":7000},{"index":5851,"volume":9080},{"index":5858,"volume":4800},{"index":5866,"volume":6600},{"index":5874,"volume":4300},{"index":5885,"volume":9080},{"index":5892,"volume":4700},{"index":5900,"volume":6400},{"index":5910,"volume":4200},{"index":5920,"volume":6200},{"index":5930,"volume":4000},{"index":5940,"volume":6000},{"index":5950,"volume":3900},{"index":5960,"volume":5800},{"index":5970,"volume":4100},{"index":5980,"volume":6000},{"index":5990,"volume":3800},{"index":6000,"volume":5600},{"index":6010,"volume":3900},{"index":6020,"volume":5800},{"index":6030,"volume":4000},{"index":6042,"volume":1300},{"index":6050,"volume":5500},{"index":6058,"volume":3700},{"index":6065,"volume":7500},{"index":6072,"volume":3800},{"index":6080,"volume":5600},{"index":6090,"volume":3600},{"index":6100,"volume":5400},{"index":6110,"volume":3700},{"index":6120,"volume":5800},{"index":6130,"volume":3500},{"index":6138,"volume":6200},{"index":6145,"volume":10600},{"index":6152,"volume":3600},{"index":6160,"volume":5600},{"index":6170,"volume":3400},{"index":6180,"volume":5300},{"index":6190,"volume":3300},{"index":6200,"volume":5100},{"index":6210,"volume":3200},{"index":6220,"volume":4900},{"index":6230,"volume":3100},{"index":6240,"volume":4700},{"index":6250,"volume":3000},{"index":6260,"volume":4600},{"index":6270,"volume":2900},{"index":6280,"volume":4500},{"index":6290,"volume":1300},{"index":6300,"volume":4600},{"index":6310,"volume":3000},{"index":6320,"volume":4400},{"index":6330,"volume":2900},{"index":6340,"volume":6900},{"index":6350,"volume":3100},{"index":6360,"volume":4500},{"index":6370,"volume":2900},{"index":6380,"volume":4400},{"index":6390,"volume":3000},{"index":6400,"volume":5900},{"index":6410,"volume":2900},{"index":6420,"volume":4300},{"index":6430,"volume":1000},{"index":6440,"volume":4400},{"index":6450,"volume":3000},{"index":6460,"volume":4200},{"index":6470,"volume":2900},{"index":6478,"volume":5600},{"index":6486,"volume":3000},{"index":6495,"volume":4300},{"index":6505,"volume":2800},{"index":6515,"volume":4200},{"index":6520,"volume":1500},{"index":6530,"volume":4300},{"index":6540,"volume":3000},{"index":6550,"volume":4100},{"index":6558,"volume":2900},{"index":6566,"volume":5800},{"index":6575,"volume":3100},{"index":6585,"volume":4300},{"index":6595,"volume":2800},{"index":6605,"volume":4200},{"index":6615,"volume":3000},{"index":6625,"volume":1600},{"index":6635,"volume":4300},{"index":6645,"volume":2900},{"index":6655,"volume":4100},{"index":6663,"volume":3000},{"index":6672,"volume":5400},{"index":6680,"volume":2800},{"index":6690,"volume":4200},{"index":6700,"volume":2900},{"index":6710,"volume":4000},{"index":6720,"volume":2800},{"index":6730,"volume":1800},{"index":6740,"volume":4100},{"index":6750,"volume":2900},{"index":6760,"volume":4000},{"index":6768,"volume":2800},{"index":6776,"volume":5600},{"index":6785,"volume":2700},{"index":6795,"volume":4100},{"index":6805,"volume":2900},{"index":6815,"volume":4000},{"index":6825,"volume":2800},{"index":6835,"volume":1500},{"index":6845,"volume":4000},{"index":6855,"volume":2700},{"index":6865,"volume":4100},{"index":6875,"volume":2900},{"index":6885,"volume":4000},{"index":6895,"volume":2800},{"index":6905,"volume":4100},{"index":6915,"volume":2900},{"index":6925,"volume":3900},{"index":6935,"volume":2700},{"index":6945,"volume":4000},{"index":6952,"volume":5790},{"index":6958,"volume":1990},{"index":6966,"volume":3900},{"index":6975,"volume":2800},{"index":6985,"volume":4000},{"index":6995,"volume":2900},{"index":7003,"volume":3900},{"index":7011,"volume":5060},{"index":7019,"volume":2800},{"index":7028,"volume":3900},{"index":7036,"volume":2900},{"index":7044,"volume":3800},{"index":7051,"volume":1320},{"index":7060,"volume":3900},{"index":7068,"volume":2800},{"index":7076,"volume":5050},{"index":7084,"volume":2900},{"index":7093,"volume":4000},{"index":7102,"volume":2800},{"index":7111,"volume":3900},{"index":7120,"volume":2900},{"index":7130,"volume":4000},{"index":7139,"volume":5260},{"index":7147,"volume":2900},{"index":7156,"volume":3900},{"index":7165,"volume":2800},{"index":7174,"volume":4000},{"index":7182,"volume":2900},{"index":7190,"volume":1990},{"index":7198,"volume":4000},{"index":7207,"volume":2900},{"index":7216,"volume":4100},{"index":7225,"volume":3000},{"index":7234,"volume":4200},{"index":7242,"volume":2900},{"index":7250,"volume":4300},{"index":7259,"volume":6060},{"index":7266,"volume":3000},{"index":7275,"volume":4200},{"index":7284,"volume":2900},{"index":7292,"volume":4300},{"index":7300,"volume":3100},{"index":7306,"volume":6260},{"index":7310,"volume":1420},{"index":7318,"volume":4200},{"index":7327,"volume":3000},{"index":7336,"volume":4300},{"index":7345,"volume":2900},{"index":7354,"volume":4200},{"index":7363,"volume":5520},{"index":7371,"volume":3100},{"index":7380,"volume":4300},{"index":7389,"volume":2900},{"index":7398,"volume":4200},{"index":7406,"volume":3000},{"index":7415,"volume":4300},{"index":7424,"volume":3100},{"index":7433,"volume":4200},{"index":7442,"volume":2900},{"index":7451,"volume":4400},{"index":7460,"volume":3000},{"index":7468,"volume":4300},{"index":7475,"volume":6590},{"index":7483,"volume":3000},{"index":7491,"volume":6000},{"index":7499,"volume":3100},{"index":7508,"volume":4300},{"index":7517,"volume":2900},{"index":7526,"volume":4200},{"index":7535,"volume":3000},{"index":7543,"volume":4100},{"index":7549,"volume":1450},{"index":7553,"volume":6660},{"index":7560,"volume":3100},{"index":7568,"volume":4200},{"index":7576,"volume":6390},{"index":7584,"volume":3000},{"index":7592,"volume":4100},{"index":7600,"volume":2900},{"index":7607,"volume":4200},{"index":7613,"volume":6460},{"index":7620,"volume":3000},{"index":7628,"volume":4100},{"index":7637,"volume":2900},{"index":7646,"volume":4000},{"index":7655,"volume":3000},{"index":7664,"volume":4100},{"index":7673,"volume":2900},{"index":7683,"volume":7590},{"index":7690,"volume":3000},{"index":7699,"volume":4000},{"index":7708,"volume":2900},{"index":7717,"volume":4100},{"index":7726,"volume":3000},{"index":7735,"volume":4000},{"index":7745,"volume":4900},{"index":7753,"volume":2900},{"index":7762,"volume":4000},{"index":7771,"volume":3000},{"index":7780,"volume":6420},{"index":7786,"volume":3100},{"index":7792,"volume":1590},{"index":7798,"volume":4100},{"index":7803,"volume":5920},{"index":7810,"volume":3000},{"index":7819,"volume":4000},{"index":7828,"volume":2900},{"index":7837,"volume":4100},{"index":7846,"volume":3000},{"index":7855,"volume":4000},{"index":7868,"volume":5120},{"index":7876,"volume":2900},{"index":7885,"volume":4000},{"index":7894,"volume":3000},{"index":7903,"volume":4100},{"index":7912,"volume":2800},{"index":7921,"volume":4000},{"index":7931,"volume":5260},{"index":7937,"volume":3000},{"index":7942,"volume":2050},{"index":7950,"volume":4000},{"index":7959,"volume":2900},{"index":7968,"volume":4100},{"index":7977,"volume":3000},{"index":7986,"volume":4200},{"index":7995,"volume":2900},{"index":8004,"volume":4300},{"index":8013,"volume":3000},{"index":8022,"volume":4200},{"index":8031,"volume":2900},{"index":8042,"volume":1350},{"index":8050,"volume":4300},{"index":8058,"volume":5720},{"index":8066,"volume":3100},{"index":8075,"volume":4400},{"index":8086,"volume":5860},{"index":8094,"volume":3000},{"index":8103,"volume":4300},{"index":8112,"volume":2900},{"index":8121,"volume":4400},{"index":8130,"volume":3000},{"index":8139,"volume":5300},{"index":8147,"volume":3100},{"index":8156,"volume":4400},{"index":8165,"volume":2900},{"index":8174,"volume":4300},{"index":8183,"volume":3000},{"index":8190,"volume":4200},{"index":8197,"volume":1920},{"index":8205,"volume":4300},{"index":8214,"volume":3000},{"index":8223,"volume":4500},{"index":8232,"volume":3100},{"index":8241,"volume":4400},{"index":8250,"volume":3000},{"index":8259,"volume":4500},{"index":8268,"volume":3100},{"index":8277,"volume":4300},{"index":8286,"volume":3000},{"index":8295,"volume":4400},{"index":8304,"volume":3100},{"index":8313,"volume":7590},{"index":8320,"volume":3200},{"index":8329,"volume":4400},{"index":8338,"volume":3000},{"index":8347,"volume":4500},{"index":8359,"volume":5920},{"index":8366,"volume":3000},{"index":8375,"volume":4400},{"index":8384,"volume":3100},{"index":8393,"volume":4300},{"index":8402,"volume":2900},{"index":8411,"volume":4400},{"index":8420,"volume":3000},{"index":8430,"volume":4200},{"index":8440,"volume":5390},{"index":8446,"volume":3000},{"index":8452,"volume":2050},{"index":8460,"volume":4200},{"index":8469,"volume":3000},{"index":8478,"volume":4300},{"index":8487,"volume":3100},{"index":8498,"volume":6060},{"index":8505,"volume":3000},{"index":8514,"volume":4300},{"index":8523,"volume":2900},{"index":8532,"volume":4200},{"index":8540,"volume":3000},{"index":8548,"volume":4100},{"index":8554,"volume":3200},{"index":8558,"volume":6420},{"index":8562,"volume":1520},{"index":8566,"volume":3800},{"index":8570,"volume":4200}]
},
"layer": [
  {
    "data": {"name": "oil"},
    "mark": {"type": "line", "strokeWidth": 2.2, "interpolate": "linear"},
    "encoding": {
      "x": {"field": "index", "type": "quantitative", "scale": {"domain": [0, 8570], "nice": false, "zero": false},
            "axis": {"values": [0,1000,2000,3000,4000,5000,6000,7000,8000], "format": "d", "title": "Index", "labelColor": "#8b95a7", "titleColor": "#8b95a7", "labelPadding": 6, "titlePadding": 18, "grid": true, "labelFlush": false}},
      "y": {"field": "oil", "type": "quantitative", "scale": {"domain": [-14.6, 160], "nice": false, "zero": false},
            "axis": {"orient": "left", "values": [0,20,40,60,80,100,120,140,160], "labelExpr": "datum.value >= 100 ? format(datum.value, 'd') : (datum.value == 0 ? '0' : format(datum.value, '.1f'))", "title": "DCOILWTICO · WTI Crude Oil Spot Price –", "labelColor": "#3b82f6", "titleColor": "#3b82f6", "labelPadding": 8, "titlePadding": 18, "grid": true}},
      "color": {"datum": "DCOILWTICO · WTI Crude Oil Spot Price – DCOILWTICO", "type": "nominal",
                "scale": {"domain": ["DCOILWTICO · WTI Crude Oil Spot Price – DCOILWTICO", "Volume · S&P 500 Time Series Since 1927 – SP500.cs"], "range": ["#3b82f6", "#22c55e"]}}
    }
  },
  {
    "data": {"name": "volume"},
    "mark": {"type": "line", "strokeWidth": 1.4, "interpolate": "linear"},
    "encoding": {
      "x": {"field": "index", "type": "quantitative", "scale": {"domain": [0, 8570], "nice": false, "zero": false}, "axis": null},
      "y": {"field": "volume", "type": "quantitative", "scale": {"domain": [-1140, 12580], "nice": false, "zero": false},
            "axis": {"orient": "right", "values": [0,2000,4000,6000,8000,10000,12000], "labelExpr": "datum.value == 0 ? '0' : datum.value + 'M'", "title": "Volume · S&P 500 Time Series Since 1927", "labelColor": "#22c55e", "titleColor": "#22c55e", "labelPadding": 8, "titlePadding": -7, "grid": false}},
      "color": {"datum": "Volume · S&P 500 Time Series Since 1927 – SP500.cs", "type": "nominal"}
    }
  },
  {
    "data": {"values": [{"panel": "summary"}]},
    "layer": [
      {"mark": {"type": "rect", "fill": "#1e293b"},
       "encoding": {"x": {"datum": -500, "type": "quantitative", "scale": {"domain": [0, 8570], "nice": false, "zero": false}, "axis": null}, "x2": {"datum": 9100},
                    "y": {"datum": -29.8, "type": "quantitative", "scale": {"domain": [-14.6, 160], "nice": false, "zero": false}, "axis": null}, "y2": {"datum": -53}}},
      {"mark": {"type": "rule", "stroke": "#334155", "strokeWidth": 2},
       "encoding": {"x": {"datum": -320, "type": "quantitative", "axis": null}, "x2": {"datum": 4099}, "y": {"datum": -48.5, "type": "quantitative", "axis": null}}},
      {"mark": {"type": "text", "align": "left", "baseline": "middle", "font": "Inter", "fontSize": 24, "fontWeight": "bold", "fill": "#f1f5f9"},
       "encoding": {"x": {"datum": -320, "type": "quantitative", "axis": null}, "y": {"datum": -44.3, "type": "quantitative", "axis": null}, "text": {"value": "DCOILWTICO vs Volume"}}},
      {"mark": {"type": "text", "align": "right", "baseline": "middle", "font": "DejaVu Sans Mono", "fontSize": 30, "fontWeight": "bold", "fill": "#4ade80"},
       "encoding": {"x": {"datum": 8817, "type": "quantitative", "axis": null}, "y": {"datum": -45, "type": "quantitative", "axis": null}, "text": {"value": "r = 0.7752"}}},
      {"mark": {"type": "rect", "fill": "#1e293b", "fillOpacity": 0.96, "stroke": "#334155", "strokeWidth": 1, "cornerRadius": 8},
       "encoding": {"x": {"datum": 7871, "type": "quantitative", "axis": null}, "x2": {"datum": 8873}, "y": {"datum": 160.6, "type": "quantitative", "axis": null}, "y2": {"datum": 141.2}}},
      {"mark": {"type": "text", "align": "left", "baseline": "middle", "font": "Lato", "fontSize": 12, "fill": "#94a3b8"},
       "encoding": {"x": {"datum": 7954, "type": "quantitative", "axis": null}, "y": {"datum": 156.7, "type": "quantitative", "axis": null}, "text": {"value": "Correlation"}}},
      {"mark": {"type": "text", "align": "left", "baseline": "middle", "font": "DejaVu Sans Mono", "fontSize": 20, "fontWeight": "bold", "fill": "#22c55e"},
       "encoding": {"x": {"datum": 7954, "type": "quantitative", "axis": null}, "y": {"datum": 150.9, "type": "quantitative", "axis": null}, "text": {"value": "r = 0.7752"}}},
      {"mark": {"type": "text", "align": "left", "baseline": "middle", "font": "Lato", "fontSize": 12, "fill": "#22c55e"},
       "encoding": {"x": {"datum": 7954, "type": "quantitative", "axis": null}, "y": {"datum": 145.3, "type": "quantitative", "axis": null}, "text": {"value": "Strong"}}}
    ]
  }
],
"resolve": {"scale": {"x": "independent", "y": "independent"}}
}
